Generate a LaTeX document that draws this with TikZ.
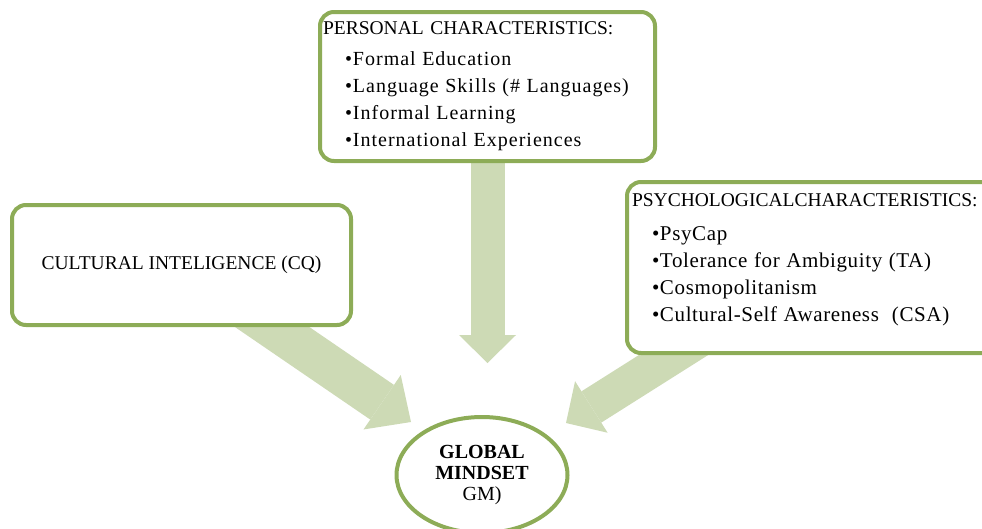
\documentclass[tikz,border=0pt]{standalone}
\usepackage{fontspec}
\setmainfont{Liberation Serif}
\newfontfamily\listfont[LetterSpace=5]{Liberation Serif}
\newfontfamily\psylistfont[LetterSpace=3]{Liberation Serif}
\usetikzlibrary{arrows.meta,shapes.geometric,backgrounds}
\definecolor{boxgreen}{HTML}{8DAC57}
\definecolor{flowgreen}{HTML}{CDDAB5}
\newcommand\pitem[1]{\hspace*{22pt}{\listfont\fontsize{20}{27}\selectfont\textbullet #1}}
\newcommand\qitem[1]{\hspace*{20pt}{\psylistfont\fontsize{21}{27}\selectfont\textbullet #1}}

\begin{document}
\begin{tikzpicture}[x=1pt,y=-1pt,
  box/.style={draw=boxgreen,line width=4pt,rounded corners=14pt,fill=white,
              font=\fontsize{19.5}{27}\selectfont},
  flow/.style n args={3}{draw=flowgreen,line width=#1pt,
              -{Triangle[width=#2pt,length=#3pt,line width=0pt]}}]

  \useasboundingbox (0,0) rectangle (982,528);
  \clip (0,0) rectangle (982,528);

  \node[box,text width=329pt,inner xsep=3pt,minimum height=149pt,align=left] (pers) at (487.5,86.5)
    {PERSONAL CHARACTERISTICS:\\[4pt]
     \pitem{Formal Education}\\
     \pitem{Language Skills (\# Languages)}\\
     \pitem{Informal Learning}\\
     \pitem{International Experiences}};
  \node[box,minimum width=339pt,minimum height=120pt] (cq) at (181.5,265)
    {CULTURAL INTELIGENCE (CQ)};
  \node[box,text width=360pt,inner xsep=5pt,minimum height=171pt,align=left] (psy) at (812,267.5)
    {PSYCHOLOGICALCHARACTERISTICS:\\[7pt]
     \qitem{PsyCap}\\
     \qitem{Tolerance for Ambiguity (TA)}\\
     \qitem{Cosmopolitanism}\\
     \qitem{Cultural-Self Awareness\ \ (CSA)}\\[-6.5pt]\mbox{}};
  \node[ellipse,draw=boxgreen,line width=4pt,fill=white,inner sep=0pt,
        minimum width=171pt,minimum height=116pt,align=center,
        font=\fontsize{20}{21}\selectfont] (gm) at (482,475)
    {\textbf{GLOBAL}\\\textbf{MINDSET}\\GM)};

  \coordinate (vtip) at (487.5,363);
  \coordinate (ltip) at (411,422);
  \coordinate (rtip) at (566,423);

  \begin{scope}[on background layer]
    \draw[flow={34}{57}{28}] (pers.center) -- (vtip);
    \draw[flow={42}{66}{35}] (cq.center) -- (ltip);
    \draw[flow={37}{61}{30}] (psy.center) -- (rtip);
  \end{scope}

\end{tikzpicture}
\end{document}
